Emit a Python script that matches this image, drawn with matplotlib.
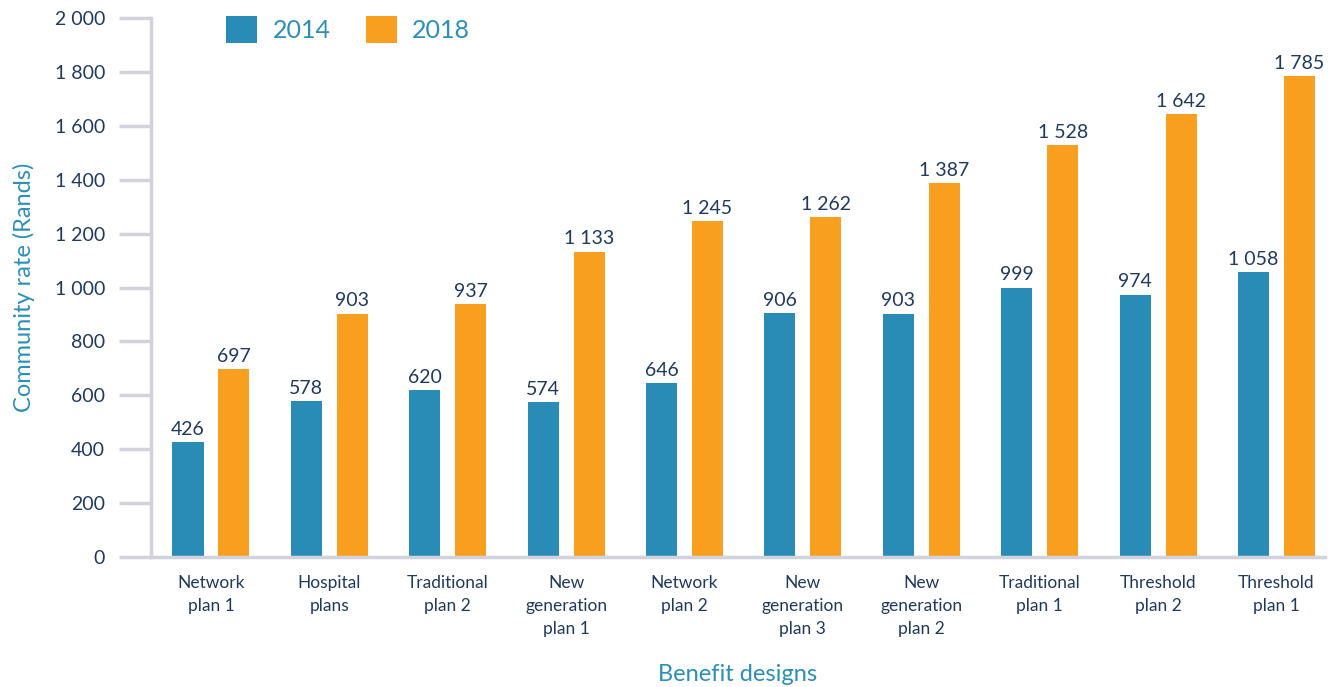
import matplotlib.pyplot as plt
from matplotlib.ticker import FuncFormatter
import numpy as np

plt.rcParams['font.family'] = ['Lato', 'DejaVu Sans']

designs = ['Network\nplan 1', 'Hospital\nplans', 'Traditional\nplan 2', 'New\ngeneration\nplan 1',
           'Network\nplan 2', 'New\ngeneration\nplan 3', 'New\ngeneration\nplan 2',
           'Traditional\nplan 1', 'Threshold\nplan 2', 'Threshold\nplan 1']
rate_2014 = [426, 578, 620, 574, 646, 906, 903, 999, 974, 1058]
rate_2018 = [697, 903, 937, 1133, 1245, 1262, 1387, 1528, 1642, 1785]

BLUE = '#298cb7'
ORANGE = '#f89f1f'
NAVY = '#1e3a5f'
TEAL = '#2b8fb9'
GREY = '#d2d2dc'


def spaced(v):
    return f'{int(v):,}'.replace(',', ' ')


fig = plt.figure(figsize=(13.37, 6.87), dpi=100)
ax = fig.add_axes([0.1129, 0.1892, 0.991 - 0.1129, 0.9738 - 0.1892])

x = np.arange(len(designs))
w = 0.262
off = 0.194
b1 = ax.bar(x - off, rate_2014, w, color=BLUE, label='2014')
b2 = ax.bar(x + off, rate_2018, w, color=ORANGE, label='2018')

for bars in (b1, b2):
    for r in bars:
        ax.text(r.get_x() + r.get_width() / 2, r.get_height() + 16, spaced(r.get_height()),
                ha='center', va='bottom', fontsize=14, color=NAVY)

ax.set_xlim(-0.507, 9.41)
ax.set_ylim(0, 2000)
ax.set_yticks(range(0, 2001, 200))
ax.yaxis.set_major_formatter(FuncFormatter(lambda v, p: spaced(v)))
ax.set_xticks(x)
ax.set_xticklabels(designs, fontsize=12.5, color=NAVY, linespacing=1.55, va='top')
ax.tick_params(axis='x', length=0, pad=13)
ax.tick_params(axis='y', length=23, width=2.5, color=GREY, labelsize=14, labelcolor=NAVY, pad=10)

for s in ('top', 'right'):
    ax.spines[s].set_visible(False)
for s in ('left', 'bottom'):
    ax.spines[s].set_color(GREY)
    ax.spines[s].set_linewidth(2.5)

ax.set_ylabel('Community rate (Rands)', fontsize=17, color=TEAL, labelpad=14)
ax.set_xlabel('Benefit designs', fontsize=17, color=TEAL, labelpad=19)

ax.legend(loc='upper left', bbox_to_anchor=(0.045, 1.045), ncol=2, frameon=False,
          fontsize=18, labelcolor=TEAL, handlelength=1.24, handleheight=1.24,
          columnspacing=1.4, handletextpad=0.62)

fig.savefig('out.png', dpi=100)
